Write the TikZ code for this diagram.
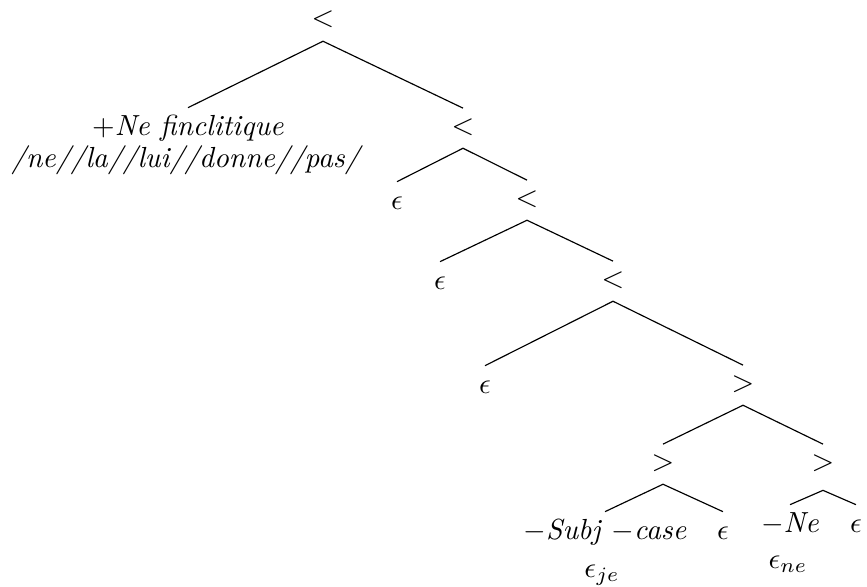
\documentclass[tikz,border=0pt]{standalone}
\begin{document}
\begin{tikzpicture}[x=0.344pt,y=-0.344pt,
  op/.style={anchor=base,inner sep=0pt,text height=8.7pt,text depth=4.7pt},
  opj/.style={anchor=base,inner sep=0pt,text height=8.7pt,text depth=6.8pt},
  lf/.style={anchor=base,inner sep=0pt,text height=9.2pt,text depth=0pt},
  sub/.style={anchor=base,inner sep=0pt},
  edge/.style={draw=black,line width=0.4pt}]
\useasboundingbox (0,0) rectangle (867,587);
% internal nodes
\node[op] (r) at (323,27) {$<$};
\node[op] (b) at (463,134) {$<$};
\node[op] (d) at (527,206) {$<$};
\node[op] (f) at (613,287) {$<$};
\node[op] (h) at (743,391) {$>$};
\node[op] (i) at (663,470) {$>$};
\node[opj] (j) at (823,470) {$>$};
% leaves
\node[lf] (a) at (188,135) {$+$\textit{Ne finclitique}};
\node[sub] (a2) at (187,167) {\textit{/ne//la//lui//donne//pas/}};
\node[lf] (c) at (397,209) {$\epsilon$};
\node[lf] (e) at (440,289) {$\epsilon$};
\node[lf] (g) at (485,393) {$\epsilon$};
\node[lf] (k) at (605,539) {$-$\textit{Subj} $-$\textit{case}};
\node[sub] (k2) at (602,577) {$\epsilon_{je}$};
\node[lf] (l) at (723,539) {$\epsilon$};
\node[lf] (m) at (790,532) {$-$\textit{Ne}};
\node[sub] (m2) at (788,568) {$\epsilon_{ne}$};
\node[lf] (n) at (856,532) {$\epsilon$};
% edges
\draw[edge] (a.north) -- (r.south) -- (b.north);
\draw[edge] (c.north) -- (b.south) -- (d.north);
\draw[edge] (e.north) -- (d.south) -- (f.north);
\draw[edge] (g.north) -- (f.south) -- (h.north);
\draw[edge] (i.north) -- (h.south) -- (j.north);
\draw[edge] (k.north) -- (i.south) -- (l.north);
\draw[edge] (m.north) -- (j.south) -- (n.north);
\end{tikzpicture}
\end{document}
